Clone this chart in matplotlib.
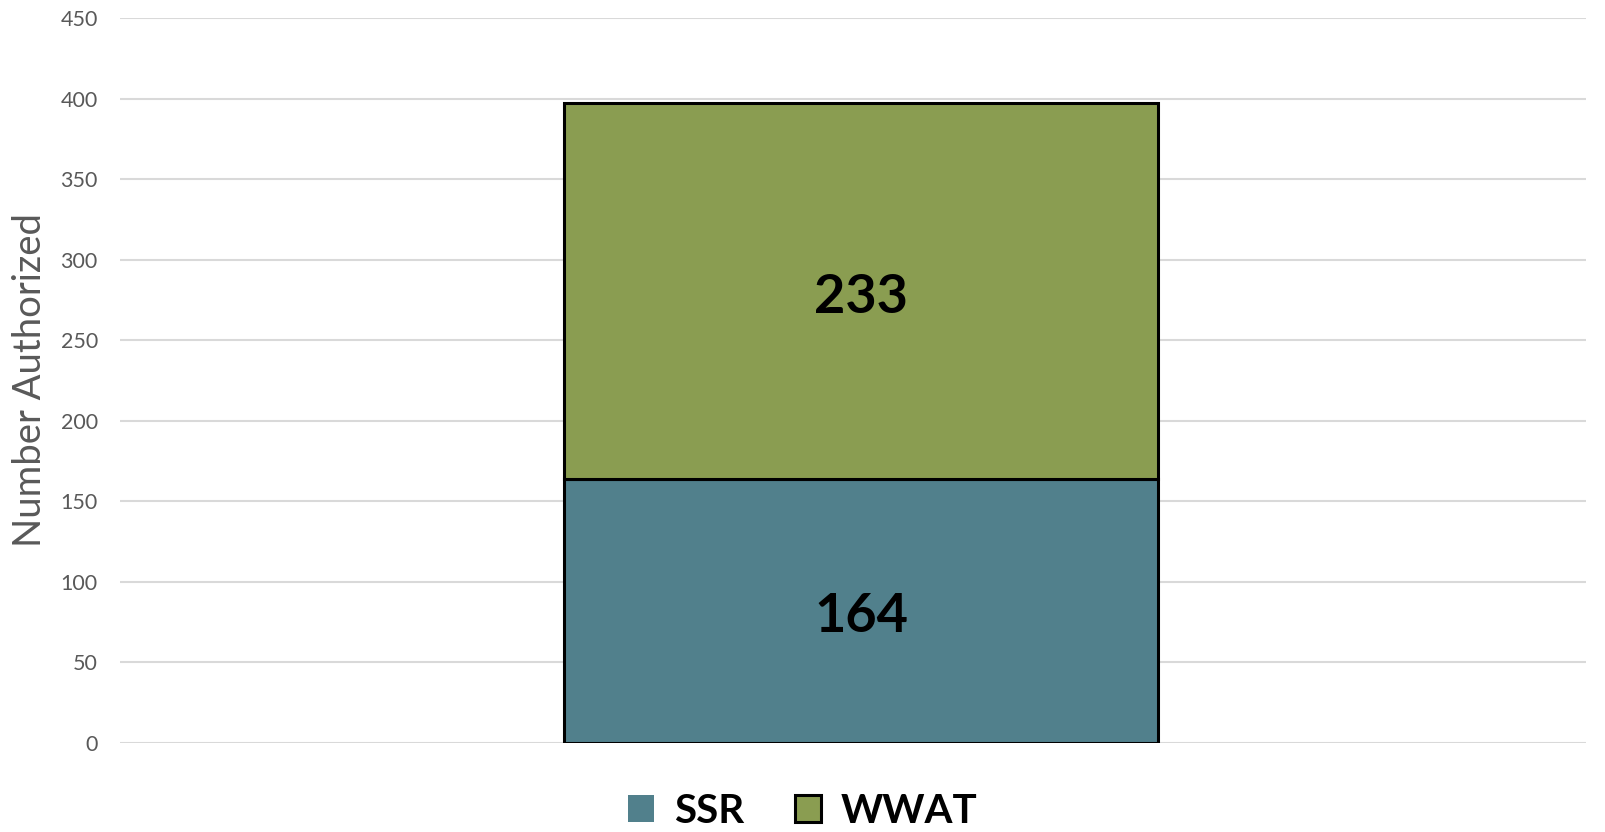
import matplotlib
matplotlib.use("Agg")
import matplotlib.pyplot as plt
from matplotlib.patches import Patch

categories = [""]
series_names = ["SSR", "WWAT"]
ssr_values = [164]
wwat_values = [233]
y_ticks = [0, 50, 100, 150, 200, 250, 300, 350, 400, 450]
colors = {"SSR": "#51808C", "WWAT": "#8A9D51"}

plt.rcParams['font.family'] = ['Lato', 'DejaVu Sans']

fig = plt.figure(figsize=(16.06, 8.32), dpi=100)
ax = fig.add_axes([120/1606, 1-742.7/832, (1586-120)/1606, (742.7-18)/832])

x = list(range(len(categories)))
ax.bar(x, ssr_values, width=0.405, color=colors["SSR"], edgecolor="black", linewidth=2.2, zorder=3)
ax.bar(x, wwat_values, bottom=ssr_values, width=0.405, color=colors["WWAT"], edgecolor="black", linewidth=2.2, zorder=3)

for i in x:
    ax.annotate(str(ssr_values[i]), (i, ssr_values[i]/2), xytext=(0, -4.5), textcoords="offset points",
                ha="center", va="center", fontsize=39, fontweight="bold", color="black", zorder=4)
    ax.annotate(str(wwat_values[i]), (i, ssr_values[i] + wwat_values[i]/2), xytext=(0, -4.5),
                textcoords="offset points", ha="center", va="center", fontsize=39,
                fontweight="bold", color="black", zorder=4)

ax.set_xlim(-0.5055, 0.4945)
ax.set_ylim(0, 450)
ax.set_yticks(y_ticks)
ax.set_xticks([])
ax.tick_params(axis="y", length=0, pad=16, labelsize=15.5, labelcolor="#595959")
ax.grid(axis="y", color="#D9D9D9", linewidth=1.5, zorder=0)
for s in ax.spines.values():
    s.set_visible(False)
ax.set_ylabel("Number Authorized", fontsize=27.5, color="#595959")
ax.yaxis.set_label_coords(-0.049, 0.5)

handles = [Patch(facecolor=colors["SSR"], edgecolor="none"),
           Patch(facecolor=colors["WWAT"], edgecolor="black", linewidth=2.2)]
fig.legend(handles, series_names, loc="center", bbox_to_anchor=(0.5, 0.025), ncol=2,
           frameon=False, prop={"weight": "bold", "size": 29},
           handlelength=0.64, handleheight=0.64, handletextpad=0.5, columnspacing=1.25)

fig.savefig("out.png", dpi=100)
